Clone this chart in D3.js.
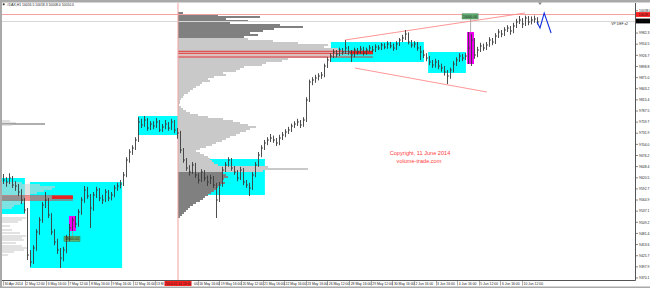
<!DOCTYPE html>
<html>
<head>
<meta charset="utf-8">
<title>#DAX H1 with volume profile</title>
<script src="https://cdn.jsdelivr.net/npm/d3@7/dist/d3.min.js"></script>
<style>
body { margin: 0; background: #fff; overflow: hidden; }
svg text { font-family: "Liberation Sans", Arial, sans-serif; }
.tiny { font-size: 3.4px; fill: #222; }
</style>
</head>
<body>
<div id="chart"></div>
<script>
var width = 650, height = 288;

// --- data ---
// H1 bars (two hours per bar), 30 Apr .. 10 Jun 2014
var highs = [9630, 9622, 9632, 9625, 9612, 9605, 9592, 9570, 9545, 9440,
	9452, 9492, 9522, 9560, 9585, 9570, 9532, 9492, 9468, 9445,
	9448, 9478, 9505, 9522, 9525, 9542, 9572, 9600, 9598, 9580,
	9585, 9598, 9595, 9578, 9592, 9590, 9585, 9602, 9608, 9615,
	9635, 9672, 9692, 9702, 9722, 9772, 9768, 9775, 9770, 9762,
	9762, 9770, 9765, 9755, 9765, 9760, 9768, 9765, 9745, 9738,
	9695, 9670, 9652, 9660, 9658, 9632, 9642, 9640, 9626, 9628,
	9625, 9608, 9610, 9648, 9660, 9672, 9670, 9650, 9640, 9648,
	9645, 9615, 9608, 9635, 9660, 9685, 9702, 9715, 9722, 9730,
	9726, 9720, 9728, 9735, 9742, 9748, 9756, 9762, 9768, 9765,
	9772, 9822, 9866, 9872, 9878, 9882, 9885, 9906, 9922, 9932,
	9942, 9940, 9946, 9945, 9965, 9950, 9940, 9946, 9945, 9950,
	9948, 9946, 9952, 9950, 9954, 9952, 9958, 9957, 9962, 9960,
	9956, 9962, 9970, 9978, 9990, 9984, 9965, 9962, 9960, 9950,
	9940, 9932, 9925, 9915, 9918, 9915, 9906, 9900, 9890, 9896,
	9912, 9922, 9932, 9930, 9932, 9985, 9980, 9970, 9948, 9958,
	9956, 9960, 9972, 9970, 9982, 9992, 9990, 9997, 10002, 10000,
	10008, 10018, 10025, 10020, 10026, 10025, 10024, 10026, 10022];
var lows = [9605, 9598, 9605, 9595, 9588, 9575, 9555, 9532, 9415, 9398,
	9405, 9438, 9478, 9508, 9545, 9520, 9478, 9452, 9430, 9395,
	9412, 9432, 9462, 9488, 9496, 9498, 9528, 9558, 9568, 9495,
	9538, 9570, 9562, 9555, 9560, 9562, 9564, 9572, 9588, 9594,
	9600, 9622, 9658, 9678, 9690, 9710, 9745, 9748, 9738, 9740,
	9742, 9745, 9735, 9735, 9742, 9738, 9740, 9732, 9718, 9682,
	9658, 9638, 9626, 9630, 9620, 9606, 9610, 9612, 9600, 9605,
	9595, 9520, 9560, 9598, 9635, 9648, 9638, 9628, 9612, 9615,
	9602, 9595, 9575, 9590, 9622, 9648, 9672, 9690, 9702, 9710,
	9708, 9700, 9702, 9715, 9722, 9730, 9735, 9745, 9750, 9745,
	9748, 9760, 9810, 9852, 9858, 9864, 9868, 9872, 9895, 9910,
	9920, 9922, 9925, 9928, 9930, 9928, 9910, 9922, 9928, 9930,
	9926, 9928, 9935, 9934, 9935, 9940, 9940, 9942, 9943, 9944,
	9938, 9940, 9950, 9960, 9965, 9954, 9946, 9946, 9938, 9915,
	9920, 9912, 9902, 9895, 9896, 9892, 9886, 9876, 9855, 9868,
	9884, 9900, 9910, 9912, 9915, 9905, 9900, 9918, 9922, 9935,
	9938, 9940, 9948, 9952, 9955, 9970, 9972, 9975, 9985, 9978,
	9982, 9995, 10005, 9995, 10000, 10002, 10004, 10008, 10004];
var closes = [9615, 9610, 9620, 9602.5, 9600, 9585, 9565, 9540, 9427.5, 9410,
	9445, 9485, 9515, 9552.5, 9565, 9527.5, 9485, 9460, 9440, 9420,
	9440, 9470, 9495, 9515, 9505, 9535, 9565, 9590, 9575, 9545,
	9577.5, 9590, 9570, 9565, 9585, 9570, 9577.5, 9595, 9600, 9605,
	9627.5, 9665, 9685, 9695, 9715, 9760, 9752.5, 9765, 9745, 9755,
	9750, 9760, 9740, 9747.5, 9755, 9745, 9760, 9740, 9732.5, 9690,
	9665, 9645, 9635, 9652.5, 9627.5, 9615, 9635, 9620, 9610, 9620,
	9602.5, 9565, 9602.5, 9640, 9652.5, 9665, 9645, 9635, 9620, 9640,
	9610, 9602.5, 9595, 9627.5, 9652.5, 9677.5, 9695, 9707.5, 9715, 9720,
	9715, 9707.5, 9720, 9727.5, 9735, 9740, 9750, 9755, 9760, 9752.5,
	9765, 9815, 9860, 9865, 9870, 9875, 9877.5, 9900, 9915, 9925,
	9935, 9930, 9940, 9935, 9945, 9935, 9927.5, 9940, 9935, 9942.5,
	9932.5, 9940, 9945, 9940, 9947.5, 9945, 9952.5, 9947.5, 9955, 9950,
	9945, 9955, 9965, 9970, 9980, 9960, 9952.5, 9955, 9945, 9935,
	9927.5, 9920, 9910, 9902.5, 9910, 9900, 9895, 9885, 9875, 9890,
	9905, 9915, 9925, 9920, 9925, 9945, 9965, 9927.5, 9940, 9950,
	9945, 9952.5, 9965, 9960, 9975, 9985, 9980, 9990, 9995, 9987.5,
	10000, 10010, 10015, 10005, 10020, 10010, 10015, 10017.5, 10010];

// projected zigzag (bar index, price)
var forecastIdx   = [178, 179, 180.4, 182.7];
var forecastPrice = [10010, 9995, 10032.5, 9982.5];

// zones: [fromBar, toBar, topPrice, bottomPrice]
var cyanZones = [[-0.5, 7.3, 9620, 9530], [9, 39.7, 9610, 9395], [45, 58.3, 9775, 9727.5],
	[65.7, 87.3, 9667.5, 9577.5], [109.3, 140.3, 9960, 9910], [141.7, 154.3, 9935, 9882.5]];
var pinkZones = [[22, 24.3, 9525, 9487.5], [154.7, 157, 9985, 9905]];

// channel lines: [bar, price] pairs
var upperLine = [[114, 9965], [174, 10032.5]];
var lowerLine = [[117.3, 9895], [161.3, 9835]];

// session split and price lines
var sessionBar = 58.33;
var bidPrice = 10028.7, defPrice = 10012.5;

// volume profile of the second session (top level, step, volumes)
var profTop = 10032.5, profStep = 5;
var profVols = [5, 40, 82, 48, 70, 52, 102, 125, 96, 85,
	72, 80, 66, 70, 95, 120, 150, 146, 160, 165,
	162, 158, 150, 110, 104, 88, 84, 66, 62, 58,
	45, 48, 36, 30, 32, 24, 22, 18, 15, 12,
	10, 6, 5, 3, 2, 2, 1, 3, 5, 8,
	12, 20, 30, 45, 55, 62, 70, 78, 72, 68,
	62, 58, 52, 48, 44, 38, 34, 28, 22, 18,
	22, 26, 30, 32, 34, 36, 40, 90, 130, 85,
	45, 48, 50, 46, 44, 47, 42, 40, 38, 36,
	33, 30, 27, 25, 22, 18, 15, 12, 10, 8,
	6, 4, 2];
var vaHigh = 9967.5, vaLow = 9637.5;

// visible tail of the previous session profile
var leftLevels = [9762.5, 9757.5, 9755, 9752.5, 9607.5, 9602.5, 9597.5, 9592.5, 9587.5, 9582.5,
	9577.5, 9560, 9555, 9550, 9545, 9520, 9515, 9510, 9500, 9490,
	9482.5, 9475, 9470, 9465, 9457.5, 9450, 9445, 9440, 9435, 9427.5];
var leftVols = [8, 14, 43, 10, 20, 38, 53, 50, 42, 35,
	28, 22, 18, 12, 10, 24, 20, 16, 8, 10,
	18, 24, 20, 22, 14, 20, 25, 22, 12, 6];
var leftDark = 9755;

// point of control lines
var pocRight = [9936.75, 9931.75, 9922.5], pocRightBars = [58.33, 123.3, 115.7];
var pocLeft = [9575, 9570, 9565], pocLeftBars = [-0.4, 23.3, 16.3];

// annotations
var annBars = [23, 155.7], annPrices = [9468, 10024], annTexts = ["10000.00", "10000.00"];
var annAnchor = [9487.5, 9985];

// axes
var priceTicks = [10038.0, 10010.2, 9982.3, 9954.5, 9926.7, 9898.8, 9871.0, 9843.2, 9815.4,
	9787.5, 9759.7, 9731.9, 9704.0, 9676.2, 9648.4, 9620.5, 9592.7, 9564.9, 9537.1,
	9509.2, 9481.4, 9453.6, 9425.7, 9397.9, 9370.1];
var dateBars = [0, 7.2, 14.4, 21.6, 28.8, 36, 43.3, 50.5, 57.7, 64.9, 72.1, 79.3, 86.5,
	93.7, 100.9, 108.1, 115.4, 122.6, 129.8, 137, 144.2, 151.4, 158.6, 165.8, 173];
var dateLabels = ["30 Apr 2014", "2 May 12:00", "6 May 16:00", "7 May 12:00", "8 May 16:00",
	"9 May 16:00", "12 May 16:00", "13 May 12:00", "15 May 16:00", "16 May 16:00",
	"19 May 16:00", "20 May 12:00", "21 May 16:00", "22 May 16:00", "23 May 16:00",
	"26 May 12:00", "28 May 16:00", "29 May 12:00", "30 May 16:00", "2 Jun 16:00",
	"3 Jun 16:00", "4 Jun 16:00", "5 Jun 12:00", "6 Jun 16:00", "10 Jun 12:00"];
var sessionLabel = "2014.05.14 13:00";
var header = "#DAX,H1  10016.5 10018.3 10008.0 10010.0";

// --- scales ---
var plotL = 2, plotR = 635, plotT = 3, plotB = 280;
var x = d3.scaleLinear().domain([0, 178]).range([3, 537]);
var y = d3.scaleLinear().domain([9370, 10040]).range([278, 10]);
var vol = d3.scaleLinear().domain([0, 100]).range([0, 100]);

var svg = d3.select("#chart").append("svg")
	.attr("width", width)
	.attr("height", height);

svg.append("rect").attr("width", width).attr("height", height).attr("fill", "#fff");

svg.append("clipPath").attr("id", "plot")
	.append("rect").attr("x", plotL).attr("y", plotT)
	.attr("width", plotR - plotL).attr("height", plotB - plotT);

var sx = x(sessionBar);
var g = svg.append("g").attr("clip-path", "url(#plot)");

// zones
g.append("g").selectAll("rect").data(cyanZones).join("rect")
	.attr("x", d => x(d[0])).attr("y", d => y(d[2]))
	.attr("width", d => x(d[1]) - x(d[0])).attr("height", d => y(d[3]) - y(d[2]))
	.attr("fill", "#00ffff");

// previous session profile tail
g.append("g").selectAll("rect").data(leftVols).join("rect")
	.attr("x", plotL)
	.attr("y", (d, i) => y(leftLevels[i]) - 0.6)
	.attr("width", d => vol(d))
	.attr("height", 1.2)
	.attr("fill", (d, i) => leftLevels[i] == leftDark ? "#7a7a7a" : "#d0d0d0");

// second session profile
g.append("g").selectAll("rect").data(profVols).join("rect")
	.attr("x", sx)
	.attr("y", (d, i) => y(profTop - i * profStep) - 1)
	.attr("width", d => vol(d))
	.attr("height", 2)
	.attr("fill", (d, i) => {
		var p = profTop - i * profStep;
		return (p <= vaHigh && p >= vaLow) ? "#c9c9c9" : "#808080";
	});

// point of control
function drawPoc(levels, bars) {
	g.append("rect")
		.attr("x", x(bars[0])).attr("y", y(levels[0]) - 0.5)
		.attr("width", x(bars[2]) - x(bars[0]))
		.attr("height", y(levels[2]) - y(levels[0]) + 1)
		.attr("fill", "#ffb0b0").attr("opacity", 0.35);
	g.append("rect")
		.attr("x", x(bars[2])).attr("y", y(levels[0]) - 0.5)
		.attr("width", x(bars[1]) - x(bars[2]))
		.attr("height", y(levels[1]) - y(levels[0]) + 1.5)
		.attr("fill", "#e82020");
	g.append("g").selectAll("line").data(levels).join("line")
		.attr("x1", x(bars[0])).attr("x2", x(bars[1]))
		.attr("y1", d => y(d)).attr("y2", d => y(d))
		.attr("stroke", "#e02828").attr("stroke-width", 0.9);
}
drawPoc(pocRight, pocRightBars);
drawPoc(pocLeft, pocLeftBars);

g.append("g").selectAll("rect").data(pinkZones).join("rect")
	.attr("x", d => x(d[0])).attr("y", d => y(d[2]))
	.attr("width", d => x(d[1]) - x(d[0])).attr("height", d => y(d[3]) - y(d[2]))
	.attr("fill", "#f000f0");

// price lines
g.append("line").attr("x1", plotL).attr("x2", plotR)
	.attr("y1", y(bidPrice)).attr("y2", y(bidPrice))
	.attr("stroke", "#f4a0a0").attr("stroke-width", 1);
g.append("line").attr("x1", plotL).attr("x2", plotR)
	.attr("y1", Math.round(y(defPrice)) + 0.5).attr("y2", Math.round(y(defPrice)) + 0.5)
	.attr("stroke", "#d8d8d8").attr("stroke-width", 1);
g.append("line").attr("x1", sx).attr("x2", sx)
	.attr("y1", plotT).attr("y2", plotB)
	.attr("stroke", "#f4a0a0").attr("stroke-width", 1);

// channel
var chan = d3.line().x(d => x(d[0])).y(d => y(d[1]));
[upperLine, lowerLine].forEach(function(l) {
	g.append("path").attr("d", chan(l)).attr("fill", "none")
		.attr("stroke", "#ff8a8a").attr("stroke-width", 0.9);
});

// annotations
annBars.forEach(function(b, i) {
	var ax = x(b), ay = y(annPrices[i]);
	g.append("line").attr("x1", ax + 0.5).attr("x2", ax + 0.5)
		.attr("y1", y(annAnchor[i])).attr("y2", ay)
		.attr("stroke", "#999").attr("stroke-width", 0.8);
	g.append("rect").attr("x", ax - 8).attr("y", ay - 2.6).attr("width", 16).attr("height", 5.2)
		.attr("fill", "#62b072").attr("stroke", "#3a7a48").attr("stroke-width", 0.5);
	g.append("text").attr("class", "tiny").attr("x", ax).attr("y", ay + 1.2)
		.attr("text-anchor", "middle").attr("fill", "#0a2a10").text(annTexts[i]);
});

// bars
var bars = g.append("g").attr("stroke", "#3a3a3a").attr("stroke-width", 0.9);
closes.forEach(function(c, i) {
	var bx = Math.round(x(i)) + 0.5;
	bars.append("line").attr("x1", bx).attr("x2", bx)
		.attr("y1", y(highs[i])).attr("y2", y(lows[i]));
	bars.append("line").attr("x1", bx).attr("x2", bx + 1.5)
		.attr("y1", y(c)).attr("y2", y(c));
});

// projection
g.append("path")
	.attr("d", d3.line().x(d => x(d)).y((d, i) => y(forecastPrice[i]))(forecastIdx))
	.attr("fill", "none").attr("stroke", "#1030e0").attr("stroke-width", 1.1);

// copyright
g.append("text").attr("x", 420).attr("y", 155).attr("text-anchor", "middle")
	.attr("font-size", 5.6).attr("fill", "#ff3a3a").text("Copyright, 11 June 2014");
g.append("text").attr("x", 419).attr("y", 162.5).attr("text-anchor", "middle")
	.attr("font-size", 5.6).attr("fill", "#ff3a3a").text("volume-trade.com");

g.append("text").attr("class", "tiny").attr("x", 628).attr("y", y(defPrice) + 4.2)
	.attr("text-anchor", "end").attr("fill", "#777").text("VP DEF x2");

// frame
svg.append("rect").attr("x", 0).attr("y", 0).attr("width", width).attr("height", 2.5).attr("fill", "#a9a9a9");
svg.append("rect").attr("x", 0).attr("y", 0).attr("width", 2).attr("height", height).attr("fill", "#a9a9a9");
svg.append("rect").attr("x", 0).attr("y", 286.5).attr("width", width).attr("height", 1.5).attr("fill", "#a9a9a9");
svg.append("line").attr("x1", plotR + 0.5).attr("x2", plotR + 0.5).attr("y1", plotT).attr("y2", plotB + 0.5)
	.attr("stroke", "#555");
svg.append("line").attr("x1", plotL).attr("x2", plotR + 0.5).attr("y1", plotB + 0.5).attr("y2", plotB + 0.5)
	.attr("stroke", "#555");
svg.append("path").attr("d", "M538,2.5 L542,2.5 L540,5 Z").attr("fill", "#888");

// header
svg.append("rect").attr("x", 2.8).attr("y", 3.4).attr("width", 1.8).attr("height", 1.8).attr("fill", "#333");
svg.append("text").attr("class", "tiny").attr("x", 7).attr("y", 5.6).text(header);

// price axis
var ya = svg.append("g");
ya.selectAll("line").data(priceTicks).join("line")
	.attr("x1", plotR + 0.5).attr("x2", plotR + 3)
	.attr("y1", d => y(d)).attr("y2", d => y(d))
	.attr("stroke", "#555").attr("stroke-width", 0.7);
ya.selectAll("text").data(priceTicks).join("text")
	.attr("class", "tiny").attr("x", 639).attr("y", d => y(d) + 1.2)
	.text(d => d.toFixed(1));

[[bidPrice, "#ff2020"], [defPrice, "#000"]].forEach(function(p) {
	svg.append("rect").attr("x", 636).attr("y", y(p[0]) - 2.4).attr("width", 14).attr("height", 4.8)
		.attr("fill", p[1]);
	svg.append("text").attr("class", "tiny").attr("x", 638.5).attr("y", y(p[0]) + 1.2)
		.attr("fill", "#fff").text(p[0].toFixed(1));
});

// time axis
var boxL = sx - 13.5, boxR = sx + 13.5;
var xa = svg.append("g");
xa.selectAll("line").data(dateBars).join("line")
	.filter(d => x(d) < boxL || x(d) > boxR)
	.attr("x1", d => Math.round(x(d)) + 0.5).attr("x2", d => Math.round(x(d)) + 0.5)
	.attr("y1", plotB + 1).attr("y2", plotB + 5.5)
	.attr("stroke", "#777").attr("stroke-width", 0.6);
xa.selectAll("text").data(dateBars).join("text")
	.attr("class", "tiny").attr("x", d => x(d) + 1.5).attr("y", 284.8)
	.text((d, i) => dateLabels[i])
	.each(function(d, i) {
		// the session marker covers part of the labels next to it
		var t = d3.select(this), s = dateLabels[i], x0 = x(d) + 1.5;
		var full = this.getComputedTextLength();
		if (x0 < boxL && x0 + full > boxL) {
			while (s.length && x0 + this.getComputedTextLength() > boxL - 0.3) {
				s = s.slice(0, -1); t.text(s);
			}
		} else if (x0 >= boxL && x0 < boxR) {
			while (s.length && x0 + full - this.getComputedTextLength() < boxR + 0.3) {
				s = s.slice(1); t.text(s);
			}
			t.attr("x", x0 + full - this.getComputedTextLength());
		}
	});

svg.append("rect").attr("x", boxL).attr("y", 281).attr("width", 27).attr("height", 5)
	.attr("fill", "#ff2020");
svg.append("text").attr("class", "tiny").attr("x", sx).attr("y", 284.8)
	.attr("text-anchor", "middle").attr("fill", "#fff").text(sessionLabel);
</script>
</body>
</html>
